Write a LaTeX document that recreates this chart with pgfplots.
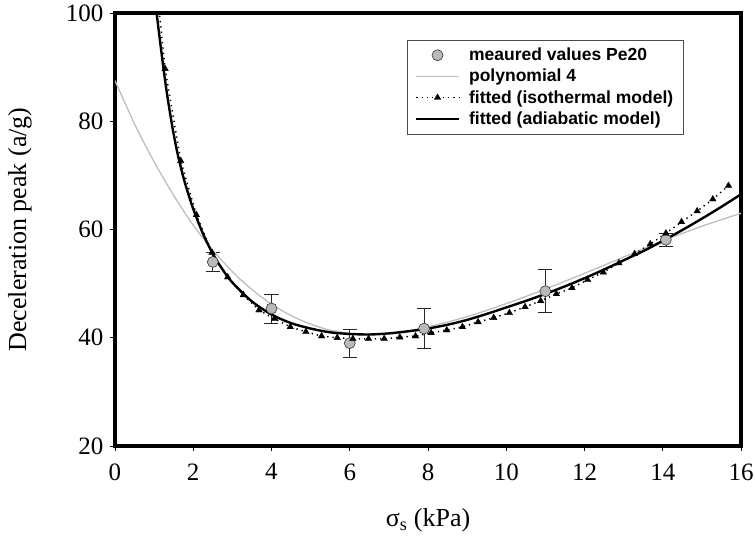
\documentclass[border=0pt]{standalone}
\usepackage{fontspec}
\setmainfont{Liberation Serif}
\newfontfamily\legfont{Liberation Sans}
\usepackage{pgfplots}
\pgfplotsset{compat=1.18}
\definecolor{polygray}{RGB}{190,190,190}
\definecolor{ptfill}{RGB}{185,185,185}
\begin{document}
\begin{tikzpicture}
\begin{axis}[
  name=ax,
  scale only axis,
  width=626pt, height=433pt,
  xmin=0, xmax=16, ymin=20, ymax=100,
  xtick={0,2,...,16}, ytick={20,40,...,100},
  xtick pos=left, ytick pos=left,
  tick align=outside,
  major tick length=5pt,
  tick style={black, line width=0.6pt},
  axis line style={line width=3.5pt},
  /pgf/number format/assume math mode=true,
  ticklabel style={font=\fontsize{25}{25}\selectfont},
  xticklabel style={yshift=-9pt},
  yticklabel style={xshift=-3pt},
  xlabel={σ\textsubscript{s} (kPa)},
  ylabel={Deceleration peak (a/g)},
  xlabel style={at={(axis description cs:0.5,-0.171)}, anchor=center, font=\fontsize{26}{26}\selectfont},
  ylabel style={at={(axis description cs:-0.1518,0.5)}, rotate=0, anchor=center, font=\fontsize{26}{26}\selectfont},
  legend image code/.code={\draw[mark repeat=2,mark phase=2,#1] plot coordinates {(0cm,0cm) (0.75cm,0cm) (1.5cm,0cm)};},
  legend style={at={(axis description cs:0.466,0.938)}, anchor=north west,
    draw=black!70, line width=0.6pt, fill=white,
    font=\legfont\bfseries\fontsize{17.5}{20}\selectfont,
    inner xsep=8pt, inner ysep=6pt, row sep=3pt,
    /tikz/every odd column/.append style={column sep=7pt},
    cells={anchor=west}},
  legend cell align=left,
  clip=true,
]
% measured values with error bars
\addplot+[only marks, mark=*, mark size=5.5pt,
  mark options={fill=ptfill, draw=black!80, line width=0.6pt},
  error bars/.cd, y dir=both, y explicit,
  error bar style={black!85, line width=0.7pt},
  error mark options={rotate=90, mark size=7pt, black!85, line width=0.7pt}]
  coordinates {
  (2.5,54.0) +- (0,1.8)
  (4.0,45.4) +- (0,2.7)
  (6.0,39.0) +- (0,2.6)
  (7.9,41.7) +- (0,3.7)
  (11.0,48.6) +- (0,4.0)
  (14.08,58.1) +- (0,1.2)
  };
\addlegendentry{meaured values Pe20}
% polynomial 4
\addplot[polygray, line width=1.3pt, smooth] coordinates {
  (0,87.5) (0.5,79.5) (1.0,72.5) (1.5,66.3) (2.0,60.8) (2.5,56.2)
  (3.0,52.2) (3.5,48.9) (4.0,46.2) (4.5,44.1) (5.0,42.5) (5.5,41.4)
  (6.0,40.8) (6.5,40.6) (7.0,40.8) (7.5,41.3) (8.0,42.0) (9.0,43.9)
  (10.0,46.3) (11.0,49.0) (12.0,51.9) (13.0,54.9) (14.0,57.9)
  (15.0,60.6) (16.0,63.0)
};
\addlegendentry{polynomial 4}
% isothermal model
\addplot[black, line width=1.5pt, dash pattern=on 1.3pt off 4pt, mark=triangle*, mark size=3.8pt,
  mark options={solid, fill=black, line width=0.3pt}] coordinates {
  (0.88,118) (1.28,89.7) (1.68,72.7) (2.08,62.7) (2.48,55.7) (2.88,51.2)
  (3.28,47.9) (3.68,45.1) (4.08,43.5) (4.48,42.0) (4.88,41.1) (5.28,40.3)
  (5.68,40.0) (6.08,39.8) (6.48,39.8) (6.88,39.8) (7.28,40.1) (7.68,40.3)
  (8.08,40.9) (8.48,41.4) (8.88,42.0) (9.28,42.9) (9.68,43.7) (10.08,44.6)
  (10.48,45.7) (10.88,46.8) (11.28,48.1) (11.68,49.2) (12.08,50.7)
  (12.48,52.1) (12.88,53.8) (13.28,55.5) (13.68,57.3) (14.08,59.3)
  (14.48,61.4) (14.88,63.4) (15.28,65.6) (15.68,68.1)
};
\addlegendentry{fitted (isothermal model)}
% adiabatic model
\addplot[black, line width=2.4pt, smooth] coordinates {
  (1.05,101) (1.1,97.8) (1.2,92.0) (1.3,86.5) (1.4,81.8) (1.5,77.6)
  (1.6,74.0) (1.7,71.0) (1.8,68.3) (2.0,63.8) (2.25,59.2) (2.5,55.5)
  (2.75,52.6) (3.0,50.2) (3.5,46.7) (4.0,44.3) (4.5,42.7) (5.0,41.7)
  (5.5,41.0) (6.0,40.7) (6.5,40.6) (7.0,40.8) (7.5,41.2) (8.0,41.7)
  (8.5,42.4) (9.0,43.3) (9.5,44.4) (10.0,45.6) (10.5,46.8) (11.0,48.1)
  (11.5,49.5) (12.0,51.0) (12.5,52.6) (13.0,54.3) (13.5,56.0) (14.0,57.9)
  (14.5,59.9) (15.0,62.0) (15.5,64.2) (16.0,66.5)
};
\addlegendentry{fitted (adiabatic model)}
\end{axis}
\pgfresetboundingbox
\path[use as bounding box] ([shift={(-115pt,-95pt)}]ax.south west) rectangle ([shift={(14pt,13pt)}]ax.north east);
\end{tikzpicture}
\end{document}
